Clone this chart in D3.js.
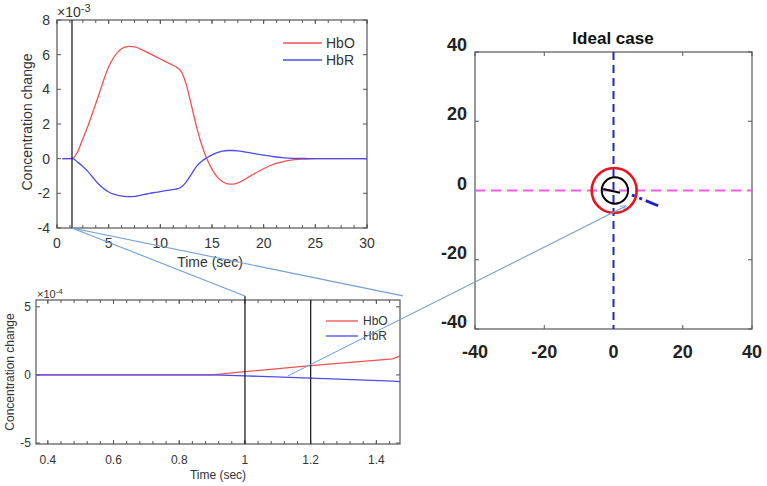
<!DOCTYPE html>
<html>
<head>
  <title>HbO / HbR response and ideal case</title>
  <script src="https://d3js.org/d3.v7.min.js"></script>
  <style>
    body { margin: 0; background: #fff; }
    svg { font-family: "Liberation Sans", Arial, sans-serif; }
  </style>
</head>
<body>
  <div id="chart"></div>

  <script>
    // top panel: full response (x 1e-3)
    var timeFull = [0.5, 1, 1.5, 2, 2.5, 3, 3.5, 4, 4.5, 5, 5.5, 6, 6.5, 7, 7.5, 8, 8.5, 9, 9.5, 10, 10.5, 11, 11.5, 12, 12.5, 13, 13.5, 14, 14.5, 15, 15.5, 16, 16.5, 17, 17.5, 18, 19, 20, 21, 22, 23, 24, 25, 26, 28, 30];
    var hboFull = [0, 0, 0.03, 0.4, 1.15, 1.9, 2.75, 3.6, 4.5, 5.3, 5.85, 6.22, 6.42, 6.48, 6.45, 6.35, 6.2, 6.05, 5.9, 5.75, 5.6, 5.45, 5.3, 5.05, 4.3, 3.1, 1.85, 0.8, 0, -0.6, -1.05, -1.32, -1.45, -1.47, -1.4, -1.25, -0.9, -0.58, -0.32, -0.15, -0.06, -0.02, 0, 0, 0, 0];
    var hbrFull = [0, 0, 0, -0.2, -0.45, -0.75, -1.1, -1.45, -1.72, -1.92, -2.05, -2.13, -2.17, -2.19, -2.18, -2.12, -2.06, -2.0, -1.95, -1.9, -1.85, -1.8, -1.76, -1.65, -1.35, -0.9, -0.45, -0.15, 0.05, 0.22, 0.35, 0.43, 0.47, 0.47, 0.45, 0.41, 0.3, 0.2, 0.11, 0.05, 0.02, 0.01, 0, 0, 0, 0];
    var markFull = 1.45;

    // bottom panel: zoom on onset (x 1e-4)
    var timeZoom = [0.364, 0.9, 1.0, 1.2, 1.45, 1.472];
    var hboZoom = [0, 0, 0.24, 0.68, 1.18, 1.4];
    var hbrZoom = [0, 0, -0.07, -0.24, -0.46, -0.49];
    var markZoom = [1.0, 1.2];

    // right panel: ideal case
    var circles = [
      { cx: 0.2, cy: 0, r: 6.5, color: "#e8141b", width: 2.6 },
      { cx: 0.4, cy: 0, r: 3.8, color: "#000", width: 2 }
    ];
    var needle = [[-2.95, 0.43], [1.9, -0.64]];
    var dashDot = [[5.3, -1.3], [12.9, -4.4]];

    var legendNames = ["HbO", "HbR"];
    var colors = ["#f25050", "#4b4bf2"];
    var linkColor = "#6e9fd6";

    var svg = d3.select("#chart").append("svg")
      .attr("width", 767).attr("height", 486);

    function boxAxes(x, y, xt, xminor, yt, big, small) {
      var g = svg.append("g");
      var x0 = x.range()[0], x1 = x.range()[1], y0 = y.range()[0], y1 = y.range()[1];
      xminor.forEach(function(v) {
        g.append("line").attr("x1", x(v)).attr("x2", x(v)).attr("y1", y0).attr("y2", y0 - small).attr("stroke", "#555");
        g.append("line").attr("x1", x(v)).attr("x2", x(v)).attr("y1", y1).attr("y2", y1 + small).attr("stroke", "#555");
      });
      xt.forEach(function(v) {
        g.append("line").attr("x1", x(v)).attr("x2", x(v)).attr("y1", y0).attr("y2", y0 - big).attr("stroke", "#555");
        g.append("line").attr("x1", x(v)).attr("x2", x(v)).attr("y1", y1).attr("y2", y1 + big).attr("stroke", "#555");
      });
      yt.forEach(function(v) {
        g.append("line").attr("y1", y(v)).attr("y2", y(v)).attr("x1", x0).attr("x2", x0 + big).attr("stroke", "#555");
        g.append("line").attr("y1", y(v)).attr("y2", y(v)).attr("x1", x1).attr("x2", x1 - big).attr("stroke", "#555");
      });
      g.append("rect").attr("x", x0).attr("y", y1).attr("width", x1 - x0).attr("height", y0 - y1)
        .attr("fill", "none").attr("stroke", "#555").attr("stroke-width", 1.2);
      return g;
    }

    function legend(x, y, size) {
      legendNames.forEach(function(n, i) {
        svg.append("line").attr("x1", x).attr("x2", x + (size > 12 ? 39 : 32))
          .attr("y1", y + i * (size + 3)).attr("y2", y + i * (size + 3))
          .attr("stroke", colors[i]).attr("stroke-width", 1.3);
        svg.append("text").attr("x", x + (size > 12 ? 43 : 37)).attr("y", y + i * (size + 3) + size * 0.36)
          .attr("font-size", size).attr("fill", "#333").text(n);
      });
    }

    // ---------- top panel ----------
    var xT = d3.scaleLinear().domain([0, 30]).range([57, 367]);
    var yT = d3.scaleLinear().domain([-4, 8]).range([228, 20]);
    boxAxes(xT, yT, d3.range(0, 31, 5), d3.range(0, 30.1, 1.25), d3.range(-4, 9, 2), 4, 3);
    d3.range(0, 31, 5).forEach(function(v) {
      svg.append("text").attr("x", xT(v)).attr("y", 248).attr("text-anchor", "middle")
        .attr("font-size", 14).attr("fill", "#333").text(v);
    });
    d3.range(-4, 9, 2).forEach(function(v) {
      svg.append("text").attr("x", 50).attr("y", yT(v) + 5).attr("text-anchor", "end")
        .attr("font-size", 14).attr("fill", "#333").text(v);
    });
    svg.append("text").attr("x", 210).attr("y", 267).attr("text-anchor", "middle")
      .attr("font-size", 14).attr("fill", "#333").text("Time (sec)");
    svg.append("text").attr("transform", "translate(32,122) rotate(-90)").attr("text-anchor", "middle")
      .attr("font-size", 14).attr("fill", "#333").text("Concentration change");
    var e3 = svg.append("text").attr("x", 57).attr("y", 17).attr("font-size", 14).attr("fill", "#333");
    e3.append("tspan").text("\u00d710");
    e3.append("tspan").attr("dy", -5).attr("font-size", 11).text("-3");

    var lineT = d3.line().curve(d3.curveMonotoneX).x(function(d) { return xT(d[0]); }).y(function(d) { return yT(d[1]); });
    [hboFull, hbrFull].forEach(function(s, i) {
      svg.append("path").attr("d", lineT(d3.zip(timeFull, s)))
        .attr("fill", "none").attr("stroke", colors[i]).attr("stroke-width", 1.3);
    });
    svg.append("line").attr("x1", xT(markFull)).attr("x2", xT(markFull)).attr("y1", yT(8)).attr("y2", yT(-4))
      .attr("stroke", "#222").attr("stroke-width", 1.3);
    legend(283, 43, 14);

    // ---------- bottom panel ----------
    var xB = d3.scaleLinear().domain([0.364, 1.472]).range([36, 400]);
    var yB = d3.scaleLinear().domain([-5.07, 5.5]).range([444, 300]);
    var minorB = d3.range(0, 40).map(function(i) { return 0.36 + i * 0.04; }).filter(function(v) { return v >= 0.364 && v <= 1.472; });
    boxAxes(xB, yB, [0.4, 0.6, 0.8, 1.0, 1.2, 1.4], minorB, [-5, 0, 5], 4, 3);
    [0.4, 0.6, 0.8, 1.0, 1.2, 1.4].forEach(function(v) {
      svg.append("text").attr("x", xB(v)).attr("y", 464).attr("text-anchor", "middle")
        .attr("font-size", 12).attr("fill", "#333").text(d3.format("~g")(v));
    });
    [-5, 0, 5].forEach(function(v) {
      svg.append("text").attr("x", 31).attr("y", yB(v) + 4).attr("text-anchor", "end")
        .attr("font-size", 12).attr("fill", "#333").text(v);
    });
    svg.append("text").attr("x", 218).attr("y", 479).attr("text-anchor", "middle")
      .attr("font-size", 12).attr("fill", "#333").text("Time (sec)");
    svg.append("text").attr("transform", "translate(14,372) rotate(-90)").attr("text-anchor", "middle")
      .attr("font-size", 12).attr("fill", "#333").text("Concentration change");
    var e4 = svg.append("text").attr("x", 37).attr("y", 298).attr("font-size", 11).attr("fill", "#333");
    e4.append("tspan").text("\u00d710");
    e4.append("tspan").attr("dy", -4).attr("font-size", 8).text("-4");

    var lineB = d3.line().x(function(d) { return xB(d[0]); }).y(function(d) { return yB(d[1]); });
    [hboZoom, hbrZoom].forEach(function(s, i) {
      svg.append("path").attr("d", lineB(d3.zip(timeZoom, s)))
        .attr("fill", "none").attr("stroke", colors[i]).attr("stroke-width", 1.3);
    });
    markZoom.forEach(function(v, i) {
      svg.append("line").attr("x1", xB(v)).attr("x2", xB(v)).attr("y1", i === 0 ? yB(5.8) : yB(5.5)).attr("y2", yB(-5.07))
        .attr("stroke", "#222").attr("stroke-width", 1.3);
    });
    legend(326, 321, 12);

    // ---------- right panel ----------
    var xR = d3.scaleLinear().domain([-40, 40]).range([475, 752]);
    var yR = d3.scaleLinear().domain([-40, 40]).range([329, 52]);
    boxAxes(xR, yR, d3.range(-40, 41, 20), [], d3.range(-40, 41, 20), 4, 0);
    d3.range(-40, 41, 20).forEach(function(v) {
      svg.append("text").attr("x", xR(v)).attr("y", 358).attr("text-anchor", "middle")
        .attr("font-size", 18).attr("font-weight", "bold").attr("fill", "#222").text(v);
      svg.append("text").attr("x", 467).attr("y", yR(v) - 1).attr("text-anchor", "end")
        .attr("font-size", 18).attr("font-weight", "bold").attr("fill", "#222").text(v);
    });
    svg.append("text").attr("x", 613).attr("y", 44).attr("text-anchor", "middle")
      .attr("font-size", 17).attr("font-weight", "bold").attr("fill", "#111").text("Ideal case");

    svg.append("line").attr("x1", xR(0)).attr("x2", xR(0)).attr("y1", yR(40)).attr("y2", yR(-40))
      .attr("stroke", "#2424c8").attr("stroke-width", 2).attr("stroke-dasharray", "8,5");
    svg.append("line").attr("x1", xR(-40)).attr("x2", xR(40)).attr("y1", yR(0)).attr("y2", yR(0))
      .attr("stroke", "#ee5ce8").attr("stroke-width", 1.8).attr("stroke-dasharray", "10,6");
    circles.forEach(function(c) {
      svg.append("circle").attr("cx", xR(c.cx)).attr("cy", yR(c.cy)).attr("r", xR(c.r) - xR(0))
        .attr("fill", "none").attr("stroke", c.color).attr("stroke-width", c.width);
    });
    svg.append("line").attr("x1", xR(needle[0][0])).attr("y1", yR(needle[0][1]))
      .attr("x2", xR(needle[1][0])).attr("y2", yR(needle[1][1]))
      .attr("stroke", "#000").attr("stroke-width", 2.2);
    svg.append("line").attr("x1", xR(dashDot[0][0])).attr("y1", yR(dashDot[0][1]))
      .attr("x2", xR(dashDot[1][0])).attr("y2", yR(dashDot[1][1]))
      .attr("stroke", "#1d1dd0").attr("stroke-width", 2.8).attr("stroke-dasharray", "3,5,3,4,14,100");

    // ---------- zoom links ----------
    var links = [
      [[xT(markFull), yT(-4)], [xB(1.0), yB(5.8)]],
      [[xT(markFull), yT(-4)], [xB(1.481), yB(5.8)]],
      [[xB(1.131), yB(-0.07)], [xR(3.6), yR(-4.5)]]
    ];
    svg.append("defs").append("marker").attr("id", "arr").attr("viewBox", "0 0 10 10")
      .attr("refX", 9).attr("refY", 5).attr("markerWidth", 6).attr("markerHeight", 6).attr("orient", "auto")
      .append("path").attr("d", "M0,1 L10,5 L0,9").attr("fill", "none").attr("stroke", linkColor).attr("stroke-width", 1.2);
    links.forEach(function(l, i) {
      svg.append("line").attr("x1", l[0][0]).attr("y1", l[0][1]).attr("x2", l[1][0]).attr("y2", l[1][1])
        .attr("stroke", linkColor).attr("stroke-width", 1.1)
        .attr("marker-end", i === 2 ? "url(#arr)" : null);
    });
  </script>
</body>
</html>
